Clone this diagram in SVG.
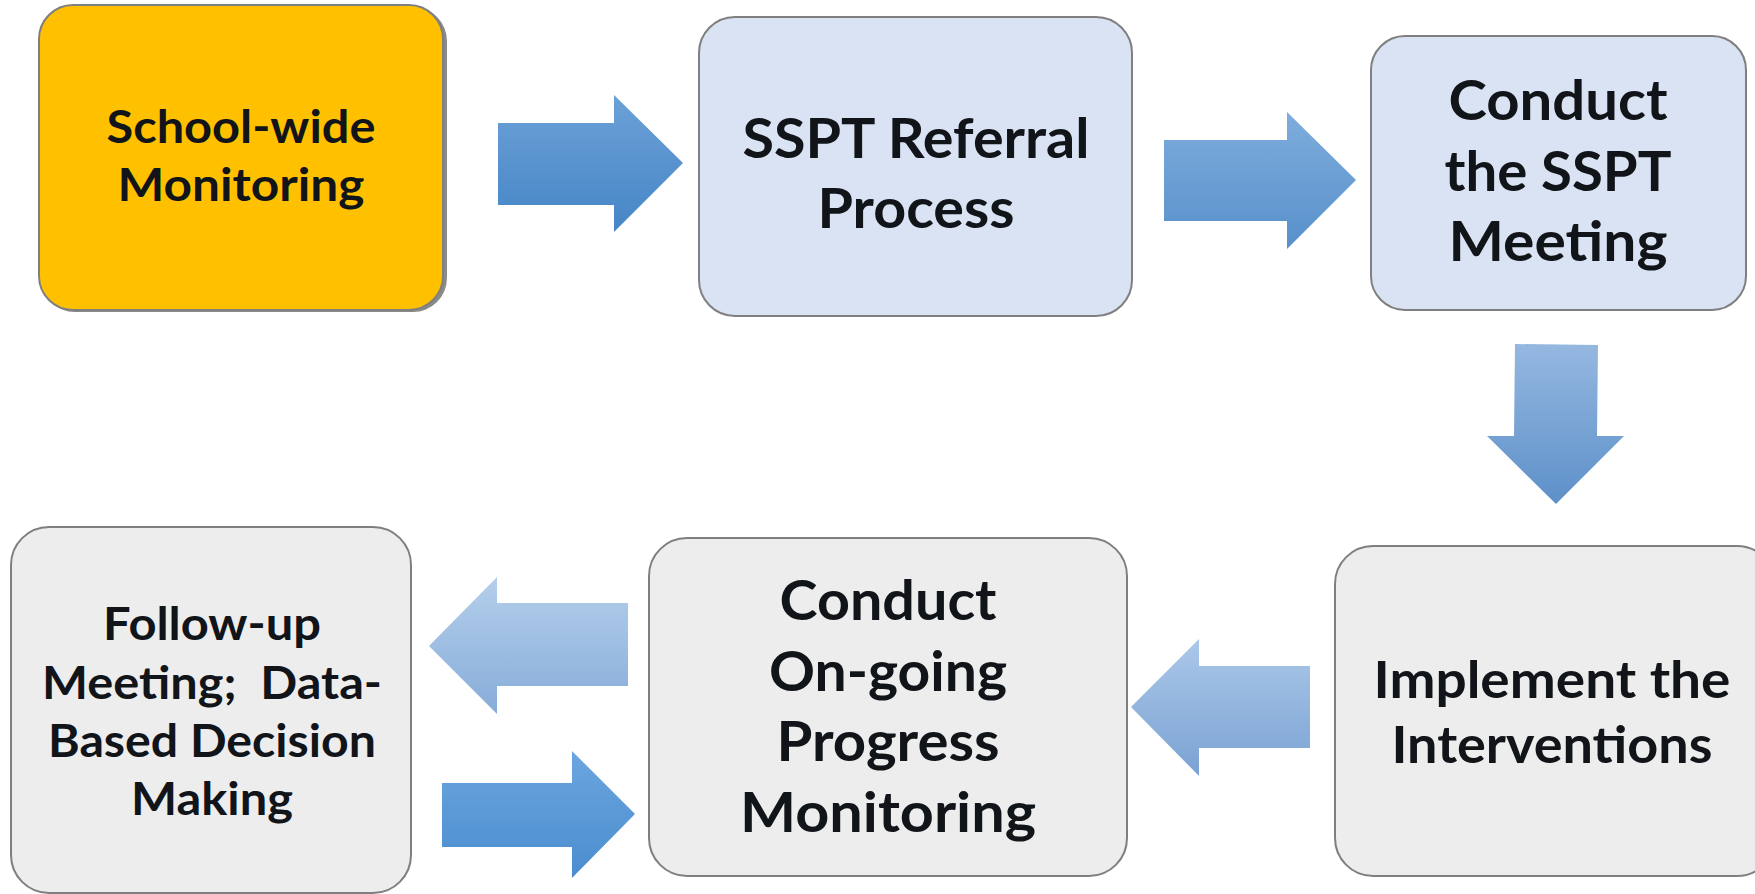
<svg xmlns="http://www.w3.org/2000/svg" width="1755" height="894" viewBox="0 0 1755 894">
  <style>
    .box { stroke: #7f7f7f; stroke-width: 2; }
    .gold { fill: #FFC000; }
    .blue { fill: #DAE3F3; }
    .grey { fill: #EDEDED; }
    .lbl { font-family: Lato, "Open Sans", "Liberation Sans", sans-serif; font-weight: 700; fill: #111418; text-anchor: middle; }
  </style>
  <defs>
    <linearGradient id="gA1" x1="0" y1="0" x2="0" y2="1"><stop offset="0" stop-color="#6da1d7"/><stop offset="1" stop-color="#4585c6"/></linearGradient>
    <linearGradient id="gA2" x1="0" y1="0" x2="0" y2="1"><stop offset="0" stop-color="#7eaddc"/><stop offset="1" stop-color="#5890cb"/></linearGradient>
    <linearGradient id="gA3" x1="0" y1="0" x2="0" y2="1"><stop offset="0" stop-color="#95b8e0"/><stop offset="1" stop-color="#5d90c9"/></linearGradient>
    <linearGradient id="gA4" x1="0" y1="0" x2="0" y2="1"><stop offset="0" stop-color="#abc8e9"/><stop offset="1" stop-color="#7aa2d2"/></linearGradient>
    <linearGradient id="gA5" x1="0" y1="0" x2="0" y2="1"><stop offset="0" stop-color="#b4cfeb"/><stop offset="1" stop-color="#87acd9"/></linearGradient>
    <linearGradient id="gA6" x1="0" y1="0" x2="0" y2="1"><stop offset="0" stop-color="#6ba5de"/><stop offset="1" stop-color="#4a8dcf"/></linearGradient>
  </defs>
  <rect width="1755" height="894" fill="#ffffff"/>

  <!-- block arrows between steps -->
  <g id="connectors">
    <polygon fill="url(#gA1)" points="498,123 614,123 614,95 683,163 614,232 614,205 498,205"/>
    <polygon fill="url(#gA2)" points="1164,140 1287,140 1287,112 1356,180 1287,249 1287,221 1164,221"/>
    <polygon fill="url(#gA3)" points="1515,344 1598,345 1597,436 1624,436 1556,504 1487,436 1514,436"/>
    <polygon fill="url(#gA4)" points="1310,666 1199,666 1199,639 1131,707 1199,776 1199,748 1310,748"/>
    <polygon fill="url(#gA5)" points="628,603 497,603 497,577 429,646 497,714 497,686 628,686"/>
    <polygon fill="url(#gA6)" points="442,783 572,783 572,751 635,814 572,878 572,847 442,847"/>
  </g>

  <g id="school-wide-monitoring">
    <rect x="41" y="7" width="406" height="305" rx="34" fill="#8a8a8a"/>
    <rect class="box gold" x="39" y="5" width="404" height="305" rx="34"/>
    <text class="lbl" font-size="46" x="241" y="143" textLength="269" lengthAdjust="spacingAndGlyphs">School-wide</text>
    <text class="lbl" font-size="46" x="241" y="201" textLength="247" lengthAdjust="spacingAndGlyphs">Monitoring</text>
  </g>

  <g id="sspt-referral-process">
    <rect class="box blue" x="699" y="17" width="433" height="299" rx="36"/>
    <text class="lbl" font-size="56" x="916" y="158" textLength="347" lengthAdjust="spacingAndGlyphs">SSPT Referral</text>
    <text class="lbl" font-size="56" x="916" y="228" textLength="197" lengthAdjust="spacingAndGlyphs">Process</text>
  </g>

  <g id="conduct-sspt-meeting">
    <rect class="box blue" x="1371" y="36" width="375" height="274" rx="34"/>
    <text class="lbl" font-size="56" x="1558" y="120" textLength="219" lengthAdjust="spacingAndGlyphs">Conduct</text>
    <text class="lbl" font-size="56" x="1558" y="191" textLength="227" lengthAdjust="spacingAndGlyphs">the SSPT</text>
    <text class="lbl" font-size="56" x="1558" y="261" textLength="219" lengthAdjust="spacingAndGlyphs">Meeting</text>
  </g>

  <g id="implement-interventions">
    <rect class="box grey" x="1335" y="546" width="440" height="330" rx="38"/>
    <text class="lbl" font-size="51" x="1552" y="698" textLength="357" lengthAdjust="spacingAndGlyphs">Implement the</text>
    <text class="lbl" font-size="51" x="1552" y="763" textLength="321" lengthAdjust="spacingAndGlyphs">Interventions</text>
  </g>

  <g id="progress-monitoring">
    <rect class="box grey" x="649" y="538" width="478" height="338" rx="38"/>
    <text class="lbl" font-size="56" x="888" y="620" textLength="217" lengthAdjust="spacingAndGlyphs">Conduct</text>
    <text class="lbl" font-size="56" x="888" y="691" textLength="238" lengthAdjust="spacingAndGlyphs">On-going</text>
    <text class="lbl" font-size="56" x="888" y="761" textLength="223" lengthAdjust="spacingAndGlyphs">Progress</text>
    <text class="lbl" font-size="56" x="888" y="832" textLength="296" lengthAdjust="spacingAndGlyphs">Monitoring</text>
  </g>

  <g id="follow-up-meeting">
    <rect class="box grey" x="11" y="527" width="400" height="366" rx="38"/>
    <text class="lbl" font-size="46" x="212" y="640" textLength="218" lengthAdjust="spacingAndGlyphs">Follow-up</text>
    <text class="lbl" font-size="46" x="212" y="699" textLength="340" lengthAdjust="spacingAndGlyphs" xml:space="preserve">Meeting;  Data-</text>
    <text class="lbl" font-size="46" x="212" y="757" textLength="328" lengthAdjust="spacingAndGlyphs">Based Decision</text>
    <text class="lbl" font-size="46" x="212" y="815" textLength="162" lengthAdjust="spacingAndGlyphs">Making</text>
  </g>
</svg>
